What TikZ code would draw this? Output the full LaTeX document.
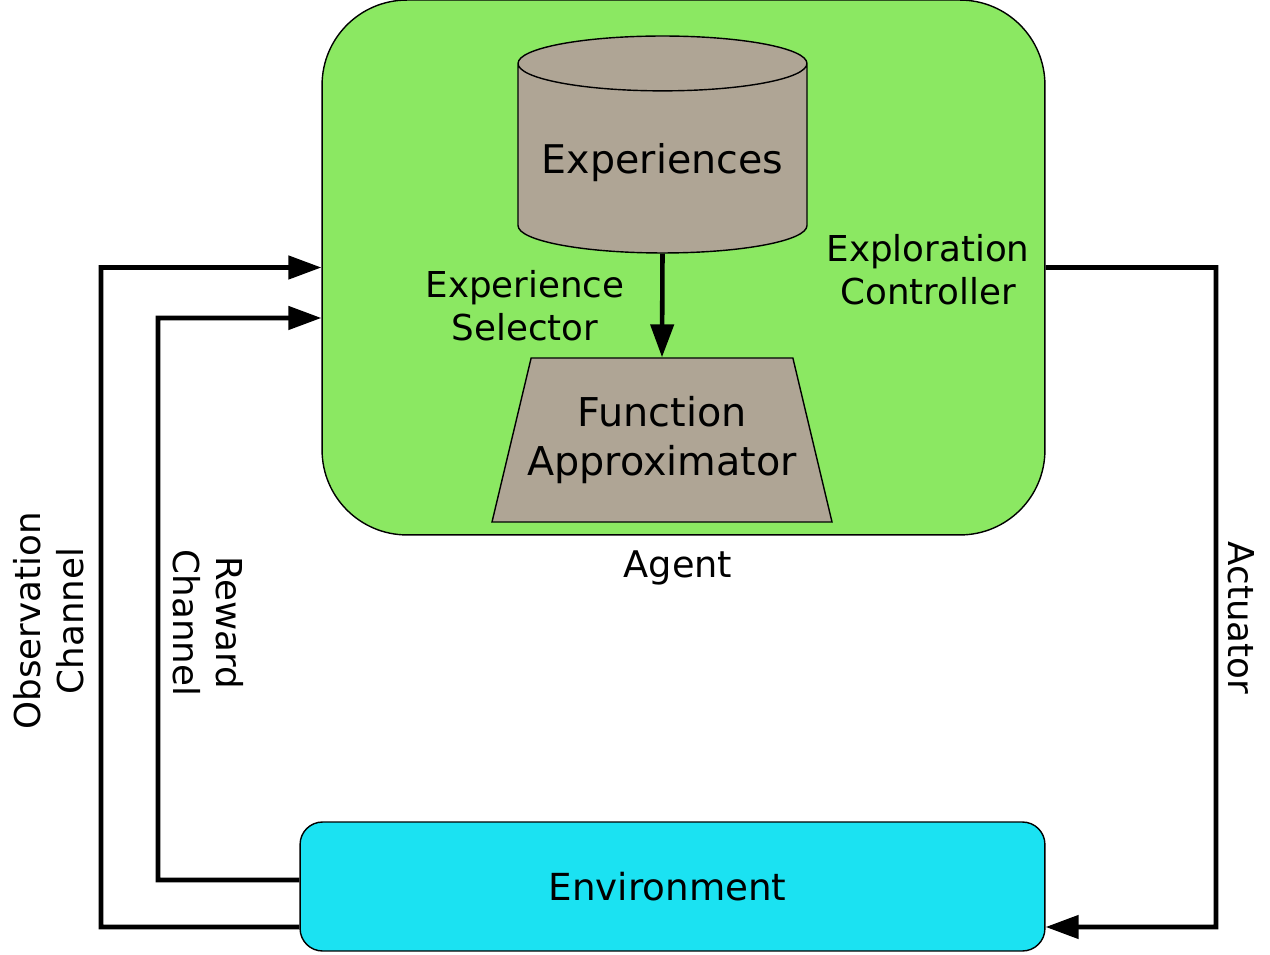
\documentclass[tikz,border=0pt]{standalone}
\usepackage{fontspec}
\setmainfont{DejaVu Sans}
\usepackage{tikz}
\usetikzlibrary{positioning}
\usetikzlibrary{shapes.geometric, arrows.meta, calc}
\definecolor{agentgreen}{RGB}{139,232,98}
\definecolor{boxtan}{RGB}{175,165,149}
\definecolor{envcyan}{RGB}{27,226,242}
\tikzstyle{lbl} = [font=\fontsize{20.3}{24.5}\selectfont, align=center, inner sep=0pt]
\tikzstyle{agentbox} = [draw=black, line width=0.8pt, fill=agentgreen, rounded corners=1.7cm, minimum width=14.46cm, minimum height=10.7cm]
\tikzstyle{envbox} = [draw=black, line width=0.8pt, fill=envcyan, rounded corners=0.45cm, minimum width=14.9cm, minimum height=2.58cm, font=\fontsize{21.2}{25}\selectfont]
\tikzstyle{store} = [cylinder, shape border rotate=90, aspect=0.217, draw=black, line width=0.8pt, fill=boxtan, minimum width=5.78cm, minimum height=4.34cm, font=\fontsize{22.5}{26}\selectfont]
\tikzstyle{approx} = [trapezium, trapezium angle=68.5, trapezium stretches=true, inner xsep=-2.3pt, draw=black, line width=0.8pt, fill=boxtan, minimum width=6.58cm, minimum height=3.28cm, align=center, font=\fontsize{22.6}{28}\selectfont]
\tikzstyle{link} = [line width=2.6pt, -{Triangle[length=0.66cm,width=0.46cm]}]

\begin{document}
\begin{tikzpicture}[x=0.02cm,y=-0.02cm]
    \useasboundingbox (0,0) rectangle (1270,955);
    \node[agentbox] (agent) at (683.5,267.5) {};
    \node[lbl, font=\fontsize{20.9}{24.5}\selectfont] (agentlabel) at (678,568) {Agent};
    \node[store, anchor=shape center] (exp) at (662.5,144.5) {Experiences};
    \node[approx] (fa) at (662,440) {Function\\Approximator};
    \node[lbl] (selector) at (525,306) {Experience\\Selector};
    \node[lbl] (explore) at (928,270) {Exploration\\Controller};
    \node[envbox] (env) at (672.5,886.5) {Environment\hspace*{0.2cm}};

    \node[lbl, rotate=90] (obslabel) at (49,621) {Observation\\Channel};
    \node[lbl, rotate=-90] (rewlabel) at (208,623) {Reward\\Channel};
    \node[lbl, rotate=-90] (actlabel) at (1241,618) {Actuator};

    \path [link] (exp.bottom) edge (fa.top side);
    \draw [link] ([yshift=-0.81cm]env.west) -- (101,927) |- (agent.west);
    \draw [link] ([yshift=0.13cm]env.west) -- (158,880) |- ([yshift=-1.01cm]agent.west);
    \draw [link] (agent.east) -| (1216,927) -- ([yshift=-0.81cm]env.east);

\end{tikzpicture}
\end{document}
